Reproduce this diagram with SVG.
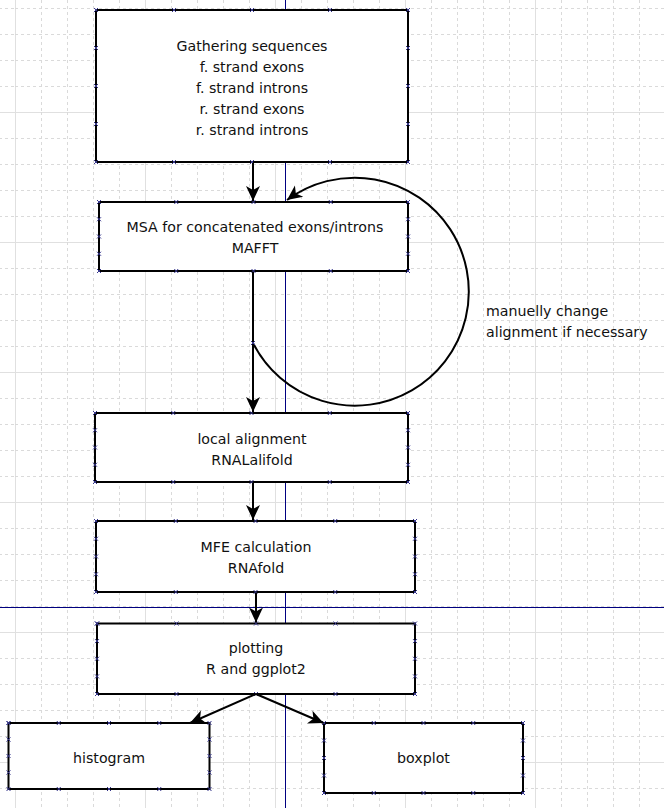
<svg xmlns="http://www.w3.org/2000/svg" width="664" height="808" viewBox="0 0 664 808">
<defs>
<style>
.box{fill:#fff;stroke:#000;stroke-width:2;marker-start:url(#cp);marker-mid:url(#cp);marker-end:url(#cp)}
.t{font-family:"DejaVu Sans",Verdana,sans-serif;font-size:14.2px;fill:#111;text-anchor:middle}
.lbl{font-family:"DejaVu Sans",Verdana,sans-serif;font-size:14.2px;fill:#111}
.con{fill:none;stroke:#000;stroke-width:2;marker-end:url(#ah)}
.guide{stroke:#000080;stroke-width:1}
</style>
<pattern id="grid" patternUnits="userSpaceOnUse" x="15" y="112" width="130" height="130">
<g fill="none">
<path d="M0.5,0V130M0,0.5H130" stroke="#e0e0e0" stroke-width="1"/>
<path d="M26.5,0V130M52.5,0V130M78.5,0V130M104.5,0V130M0,26.5H130M0,52.5H130M0,78.5H130M0,104.5H130" stroke="#dadada" stroke-width="1" stroke-dasharray="3 3"/>
</g>
</pattern>
<marker id="cp" markerUnits="userSpaceOnUse" viewBox="-3 -3 6 6" refX="0" refY="0" markerWidth="6" markerHeight="6" overflow="visible">
<path d="M-2,-2L2,2M-2,2L2,-2" stroke="#36368c" stroke-width="1" fill="none"/>
</marker>
<marker id="ah" markerUnits="userSpaceOnUse" viewBox="-16 -8 17 16" refX="0" refY="0" markerWidth="17" markerHeight="16" orient="auto" overflow="visible">
<path d="M0,0L-15,-7L-11,0L-15,7Z" fill="#000"/>
</marker>
</defs>
<rect width="664" height="808" fill="#fff"/>
<rect width="664" height="808" fill="url(#grid)"/>
<g id="guides">
<line class="guide" x1="285.5" y1="0" x2="285.5" y2="808"/>
<line class="guide" x1="0" y1="607.5" x2="664" y2="607.5"/>
</g>
<g id="n1">
<polygon class="box" points="96,10 174,10 252,10 330,10 408,10 408,48 408,86 408,124 408,162 330,162 252,162 174,162 96,162 96,124 96,86 96,48"/>
<text class="t" x="252" y="51">Gathering sequences</text>
<text class="t" x="252" y="72">f. strand exons</text>
<text class="t" x="252" y="93">f. strand introns</text>
<text class="t" x="252" y="114">r. strand exons</text>
<text class="t" x="252" y="135">r. strand introns</text>
</g>
<g id="n2">
<polygon class="box" points="99,202 176.25,202 253.5,202 330.75,202 408,202 408,219.25 408,236.5 408,253.75 408,271 330.75,271 253.5,271 176.25,271 99,271 99,253.75 99,236.5 99,219.25"/>
<text class="t" x="255" y="232">MSA for concatenated exons/introns</text>
<text class="t" x="255" y="253">MAFFT</text>
</g>
<g id="n3">
<polygon class="box" points="95,413 173.25,413 251.5,413 329.75,413 408,413 408,430.25 408,447.5 408,464.75 408,482 329.75,482 251.5,482 173.25,482 95,482 95,464.75 95,447.5 95,430.25"/>
<text class="t" x="252" y="444">local alignment</text>
<text class="t" x="252" y="465">RNALalifold</text>
</g>
<g id="n4">
<polygon class="box" points="96,521 175.75,521 255.5,521 335.25,521 415,521 415,538.75 415,556.5 415,574.25 415,592 335.25,592 255.5,592 175.75,592 96,592 96,574.25 96,556.5 96,538.75"/>
<text class="t" x="256" y="552">MFE calculation</text>
<text class="t" x="256" y="573">RNAfold</text>
</g>
<g id="n5">
<polygon class="box" points="97,623.5 176.5,623.5 256,623.5 335.5,623.5 415,623.5 415,641.1 415,658.75 415,676.4 415,694 335.5,694 256,694 176.5,694 97,694 97,676.4 97,658.75 97,641.1"/>
<text class="t" x="256" y="653">plotting</text>
<text class="t" x="256" y="674">R and ggplot2</text>
</g>
<g id="n6">
<polygon class="box" points="8.5,723 58.75,723 109,723 159.25,723 209.5,723 209.5,739.5 209.5,756 209.5,772.5 209.5,789 159.25,789 109,789 58.75,789 8.5,789 8.5,772.5 8.5,756 8.5,739.5"/>
<text class="t" x="109" y="763">histogram</text>
</g>
<g id="n7">
<polygon class="box" points="324,723 373.75,723 423.5,723 473.25,723 523,723 523,740.5 523,758 523,775.5 523,793 473.25,793 423.5,793 373.75,793 324,793 324,775.5 324,758 324,740.5"/>
<text class="t" x="423.5" y="763">boxplot</text>
</g>
<g id="connectors">
<path class="con" d="M253,163V201"/>
<path class="con" d="M253,272V412"/>
<path class="con" d="M253,483V520"/>
<path class="con" d="M256,593V622.5"/>
<path class="con" d="M256,694L190,723"/>
<path class="con" d="M256,694L323.5,723"/>
<path class="con" style="marker-start:url(#cp)" d="M253,343A114,114 0 1 0 287,200"/>
</g>
<g id="label">
<text class="lbl" x="486" y="316">manuelly change</text>
<text class="lbl" x="486" y="337">alignment if necessary</text>
</g>
</svg>
